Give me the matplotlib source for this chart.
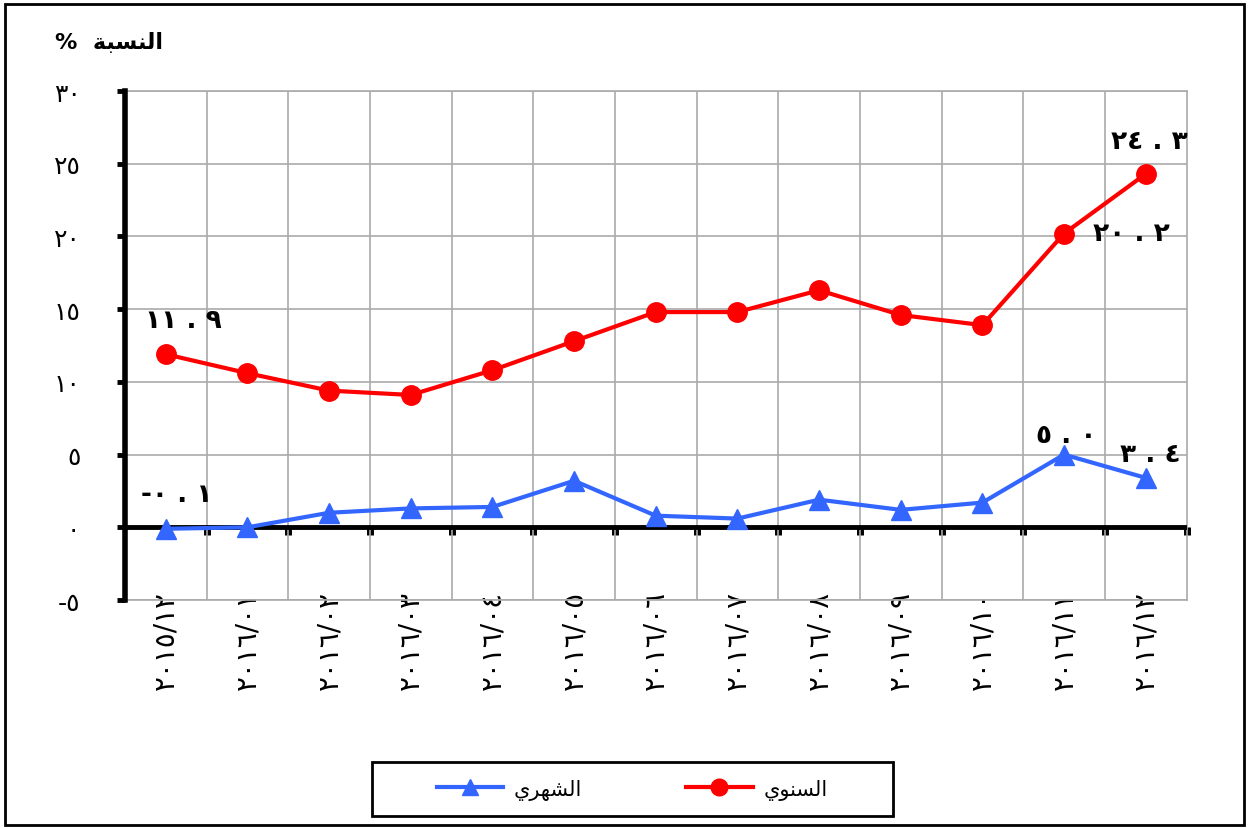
import matplotlib.pyplot as plt
from matplotlib.patches import Rectangle
from matplotlib.lines import Line2D

plt.rcParams['font.family'] = ['DejaVu Sans']

months = ["2015/12", "2016/01", "2016/02", "2016/03", "2016/04", "2016/05", "2016/06",
          "2016/07", "2016/08", "2016/09", "2016/10", "2016/11", "2016/12"]
annual = [11.9, 10.6, 9.4, 9.1, 10.8, 12.8, 14.8, 14.8, 16.3, 14.6, 13.9, 20.2, 24.3]
monthly = [-0.1, 0.0, 1.0, 1.3, 1.4, 3.2, 0.8, 0.6, 1.9, 1.2, 1.7, 5.0, 3.4]
y_ticks = [-5, 0, 5, 10, 15, 20, 25, 30]

# Arabic words in visual order (presentation forms, matplotlib does no shaping)
title_txt = "%  " + "\ufe94\ufe92\ufeb4\ufee8\ufedf\ufe8d"      # النسبة
annual_name = "\ufef1\ufeee\ufee8\ufeb4\ufedf\ufe8d"           # السنوي
monthly_name = "\ufef1\ufeae\ufeec\ufeb8\ufedf\ufe8d"          # الشهري

AR = str.maketrans("0123456789", "\u0660\u0661\u0662\u0663\u0664\u0665\u0666\u0667\u0668\u0669")


def ar(s):
    return str(s).translate(AR)


fig = plt.figure(figsize=(12.49, 8.29), dpi=100)
ax = fig.add_axes([0.100, 0.275, 0.850, 0.614])

x = list(range(len(months)))
red = '#FF0000'
blue = '#3366FF'

ax.plot(x, annual, color=red, lw=3, marker='o', ms=14, zorder=5)
ax.plot(x, monthly, color=blue, lw=3, marker='^', ms=14, zorder=5)

ax.set_xlim(-0.5, len(months) - 0.5)
ax.set_ylim(-5, 30)

# grid
ax.set_yticks(y_ticks)
ax.set_yticklabels([ar(v) if v >= 0 else "-" + ar(-v) for v in y_ticks], fontsize=18)
ax.set_xticks(x)
ax.set_xticklabels([ar(m) for m in months], rotation=90, fontsize=20, va='top')
ax.set_xticks([i + 0.5 for i in x[:-1]], minor=True)
ax.grid(True, which='major', axis='y', color='#AAAAAA', lw=1.2)
ax.grid(True, which='minor', axis='x', color='#AAAAAA', lw=1.2)
ax.tick_params(axis='x', which='both', length=0, pad=-7)
ax.tick_params(axis='y', length=6, width=3.5, color='black', pad=26, direction='out')

for s in ['top', 'right', 'bottom']:
    ax.spines[s].set_color('#AAAAAA')
    ax.spines[s].set_linewidth(1.2)
ax.spines['left'].set_linewidth(4)
ax.spines['left'].set_color('black')
ax.spines['left'].set_zorder(6)

# zero axis with ticks
ax.axhline(0, color='black', lw=3.5, zorder=4)
zero_ax = ax.secondary_xaxis(5 / 35)
zero_ax.set_xticks([i + 0.5 for i in x])
zero_ax.set_xticklabels([])
zero_ax.spines['bottom'].set_visible(False)
zero_ax.tick_params(length=6, width=5, color='black', direction='out')

# data labels
lab = dict(fontsize=19, fontweight='bold', ha='center', va='center',
           textcoords='offset pixels', zorder=7)
ax.annotate("\u0661\u0661 . \u0669", (0, annual[0]), xytext=(18, 34), **lab)
ax.annotate("\u0662\u0660 . \u0662", (11, annual[11]), xytext=(67, 1), **lab)
ax.annotate("\u0662\u0664 . \u0663", (12, annual[12]), xytext=(4, 33), **lab)
ax.annotate("-\u0660 . \u0661", (0, monthly[0]), xytext=(11, 35), **lab)
ax.annotate("\u0665 . \u0660", (11, monthly[11]), xytext=(2, 20), **lab)
ax.annotate("\u0663 . \u0664", (12, monthly[12]), xytext=(5, 24), **lab)

fig.text(0.044, 0.949, title_txt, fontsize=16, fontweight='bold', ha='left', va='center')

# legend
fig.patches.append(Rectangle((372 / 1249, 1 - 817 / 829), 521 / 1249, 54 / 829,
                             transform=fig.transFigure, fill=False, ec='black', lw=2))
handles = [Line2D([], [], color=blue, lw=3, marker='^', ms=12),
           Line2D([], [], color=red, lw=3, marker='o', ms=12)]
fig.legend(handles, [monthly_name, annual_name], loc='center', ncol=2,
           bbox_to_anchor=(0.506, 0.047), frameon=False, fontsize=15,
           handlelength=3.2, columnspacing=5, handletextpad=0.5)

# outer frame
fig.patches.append(Rectangle((0.004, 0.004), 0.992, 0.990, transform=fig.transFigure,
                             fill=False, ec='black', lw=2))

fig.savefig('out.png', dpi=100)
